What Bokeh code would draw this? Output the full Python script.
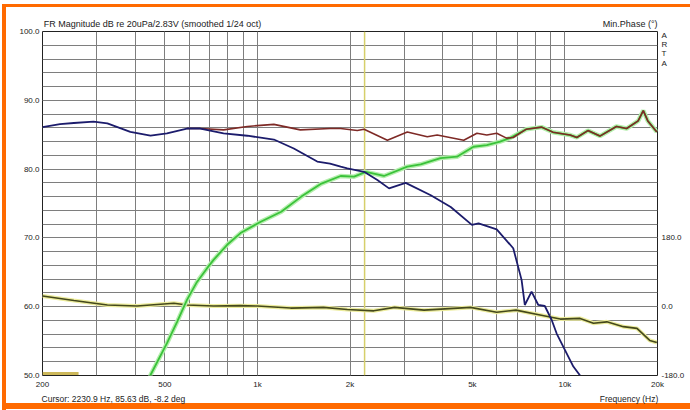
from bokeh.plotting import figure
from bokeh.models import Range1d, LinearAxis, LogAxis, FixedTicker, Span, PrintfTickFormatter
from bokeh.embed import file_html
from bokeh.resources import INLINE

# ---------------- data ----------------
woofer_freq = [200, 228, 253, 293, 325, 386, 449, 508, 590, 652, 776, 927, 1131, 1313, 1565,
               1722, 1865, 1960, 2222, 2455, 2679, 3034, 3662, 4252, 4982, 5237, 5999, 6790,
               7228, 7405, 7789, 8192, 8600, 9050, 9400, 10650, 11200]
woofer_db = [86.1, 86.55, 86.7, 86.9, 86.65, 85.4, 84.85, 85.2, 85.9, 85.9, 85.2, 84.85, 84.3,
             83.0, 81.1, 80.8, 80.35, 80.1, 79.6, 78.4, 77.2, 78.0, 76.2, 74.5, 71.9, 72.1,
             71.25, 68.5, 63.9, 60.25, 62.2, 60.25, 60.1, 58.1, 56.1, 51.3, 50.0]

combined_freq = [590, 652, 776, 927, 1131, 1379, 1722, 1865, 2112, 2222, 2646, 3072, 3567, 3842,
                 4687, 5174, 5572, 5999, 6459, 6790, 7490, 8400, 9150, 10400, 10930, 11880,
                 13000, 14700, 15870, 17300, 17980, 18600, 19900]
combined_db = [85.9, 85.9, 85.7, 86.2, 86.5, 85.7, 85.9, 85.9, 85.6, 85.8, 84.2, 85.4, 84.7,
               84.95, 84.2, 85.2, 84.95, 85.2, 84.5, 84.6, 85.8, 86.1, 85.35, 84.95, 84.6, 85.6,
               84.8, 86.2, 85.9, 87.0, 88.5, 87.0, 85.4]

tweeter_freq = [440, 449, 508, 548, 590, 636, 686, 720, 797, 881, 1025, 1195, 1389, 1615, 1865,
                2062, 2252, 2578, 3072, 3396, 3939, 4457, 5042, 5572, 6152, 6623, 7490, 8400,
                9150, 10400, 10930, 11880, 13000, 14700, 15870, 17300, 17980, 18600, 19900]
tweeter_db = [48.7, 50.07, 54.7, 57.8, 61.0, 63.6, 65.6, 66.8, 69.0, 70.7, 72.35, 73.8, 76.0,
              77.9, 79.0, 78.9, 79.6, 79.0, 80.35, 80.7, 81.6, 81.8, 83.25, 83.5, 84.0, 84.5,
              85.8, 86.1, 85.35, 84.95, 84.6, 85.6, 84.8, 86.2, 85.9, 87.0, 88.5, 87.0, 85.4]

phase_freq = [200, 253, 325, 406, 535, 590, 720, 881, 999, 1282, 1640, 1960, 2390, 2792, 3480,
              4930, 6000, 6930, 8300, 9657, 11200, 12380, 13690, 15480, 17150, 18870, 19900]
phase_deg = [27.9, 16.2, 4.5, 1.8, 9.0, 4.5, 1.8, 2.7, 1.8, -3.6, -1.8, -7.2, -10.8, -1.8, -9.0,
             -1.8, -14.4, -9.0, -21.6, -32.4, -30.6, -43.2, -39.6, -52.2, -56.7, -88.2, -93.6]

aux_freq = [200, 262]
aux_deg = [-175, -175]

cursor_freq = 2230.9

x_major = [200, 500, 1000, 2000, 5000, 10000, 20000]
x_major_labels = ["200", "500", "1k", "2k", "5k", "10k", "20k"]
x_minor = [200, 300, 400, 500, 600, 700, 800, 900, 1000, 2000, 3000, 4000, 5000, 6000, 7000,
           8000, 9000, 10000, 20000]
y_major = [50, 60, 70, 80, 90, 100]
y_minor = list(range(50, 101, 2))
phase_ticks = [-180, 0, 180]

title_text = "FR Magnitude dB re 20uPa/2.83V (smoothed 1/24 oct)"
phase_title = "Min.Phase (°)"
cursor_text = "Cursor: 2230.9 Hz, 85.63 dB, -8.2 deg"
freq_text = "Frequency (Hz)"
brand_letters = ["A", "R", "T", "A"]

# ---------------- layout constants (where the header/footer texts sit) ----------------
W, H = 690, 410
TITLE_AT = 455.7          # x position (Hz) of the centre of the title text
PHASE_TITLE_AT = 16300    # x position (Hz) of the centre of "Min.Phase (°)"
CURSOR_AT = 340           # x position (Hz) of the centre of the cursor read-out
FREQ_AT = 16160           # x position (Hz) of the centre of "Frequency (Hz)"
BRAND_AT = [709.5, 686.0, 662.4, 636.2]   # right-axis positions of the A R T A letters

FONT = "Liberation Sans"
TXT = "#222222"
GRID = "#7e7e7e"

p = figure(width=W, height=H, x_axis_type="log",
           x_range=Range1d(200, 20000), y_range=Range1d(50, 100),
           output_backend="svg", toolbar_location=None, title=None,
           min_border_left=42, min_border_right=33, min_border_top=31, min_border_bottom=35)
p.extra_y_ranges = {"phase": Range1d(-180, 720)}
p.background_fill_color = "white"
p.border_fill_color = None
p.outline_line_color = "#222222"
p.outline_line_width = 1
p.styles = {
    "background": "white",
    "box-shadow": ("inset 2px 4px 0 0 white, inset 6px 7px 0 0 #ff6a00, "
                   "inset 0 -1px 0 0 white, inset 0 -7px 0 0 #ff6a00"),
}


def style_axis(ax, standoff, size="8px"):
    ax.major_tick_out = 0
    ax.major_tick_in = 0
    ax.minor_tick_out = 0
    ax.minor_tick_in = 0
    ax.axis_line_color = None
    ax.major_label_standoff = standoff
    ax.major_label_text_font = FONT
    ax.major_label_text_font_size = size
    ax.major_label_text_color = TXT


for ax in p.xaxis:
    ax.ticker = FixedTicker(ticks=x_major, minor_ticks=x_minor)
    ax.major_label_overrides = {f: s for f, s in zip(x_major, x_major_labels)}
    style_axis(ax, 4)

for ax in p.yaxis:
    ax.ticker = FixedTicker(ticks=y_major, minor_ticks=y_minor)
    ax.formatter = PrintfTickFormatter(format="%.1f")
    style_axis(ax, 3)

# right (phase) axis, also carrying the vertical A R T A mark
raxis = LinearAxis(y_range_name="phase", ticker=FixedTicker(ticks=phase_ticks + BRAND_AT),
                   formatter=PrintfTickFormatter(format="%.1f"))
raxis.major_label_overrides = {v: s for v, s in zip(BRAND_AT, brand_letters)}
style_axis(raxis, 4)
p.add_layout(raxis, "right")

# header line: title (left) and phase-axis caption (right)
top = LogAxis(ticker=FixedTicker(ticks=[TITLE_AT, PHASE_TITLE_AT]))
top.major_label_overrides = {TITLE_AT: title_text, PHASE_TITLE_AT: phase_title}
style_axis(top, 3, "9px")
p.add_layout(top, "above")

# footer line: cursor read-out (left) and x-axis caption (right)
foot = LogAxis(ticker=FixedTicker(ticks=[CURSOR_AT, FREQ_AT]))
foot.major_label_overrides = {CURSOR_AT: cursor_text, FREQ_AT: freq_text}
style_axis(foot, 2, "8.5px")
p.add_layout(foot, "below")

for g in (p.xgrid, p.ygrid):
    g.grid_line_color = GRID
    g.grid_line_width = 1
    g.minor_grid_line_color = GRID
    g.minor_grid_line_width = 1
p.xgrid.ticker = FixedTicker(ticks=x_major, minor_ticks=x_minor)
p.ygrid.ticker = FixedTicker(ticks=y_major, minor_ticks=y_minor)

# cursor
p.add_layout(Span(location=cursor_freq, dimension="height", line_color="#d6cf6a",
                  line_width=1.5, level="underlay"))

# curves
p.line(aux_freq, aux_deg, y_range_name="phase", line_color="#cdb85a", line_width=3)
p.line(phase_freq, phase_deg, y_range_name="phase", line_color="#ecec9c", line_width=4)
p.line(phase_freq, phase_deg, y_range_name="phase", line_color="#44481c", line_width=1.6)
p.line(tweeter_freq, tweeter_db, line_color="#b4eeac", line_width=4.5)
p.line(tweeter_freq, tweeter_db, line_color="#3ac23a", line_width=1.8)
p.line(combined_freq, combined_db, line_color="#7e2a26", line_width=1.6)
p.line(woofer_freq, woofer_db, line_color="#1c1c6c", line_width=1.8)

open("out.html", "w").write(file_html(p, INLINE))
